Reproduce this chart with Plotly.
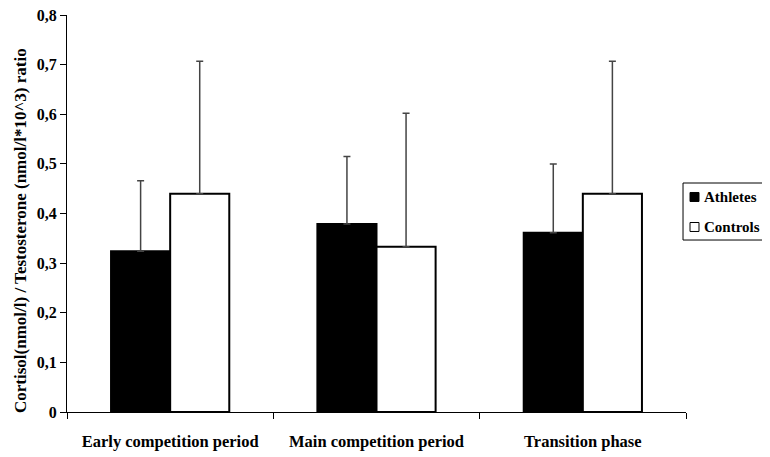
import plotly.graph_objects as go

categories = ["Early competition period", "Main competition period", "Transition phase"]
athletes = [0.324, 0.379, 0.361]
athletes_sd = [0.142, 0.136, 0.139]
controls = [0.440, 0.333, 0.440]
controls_sd = [0.267, 0.269, 0.267]
yticks = [0, 0.1, 0.2, 0.3, 0.4, 0.5, 0.6, 0.7, 0.8]
yticklabels = ["0", "0,1", "0,2", "0,3", "0,4", "0,5", "0,6", "0,7", "0,8"]
series_names = ["Athletes", "Controls"]
series_fill = ["black", "white"]

font_family = "Liberation Serif, Times New Roman, serif"

fig = go.Figure()
for name, vals, sd, fill in [(series_names[0], athletes, athletes_sd, series_fill[0]),
                             (series_names[1], controls, controls_sd, series_fill[1])]:
    fig.add_trace(go.Bar(
        x=categories, y=vals, name=name, showlegend=False,
        marker=dict(color=fill, line=dict(color="black", width=2)),
        error_y=dict(type="data", array=sd, arrayminus=[0] * len(sd), symmetric=False,
                     color="#444444", thickness=1.5, width=3.5),
    ))

# manual legend (box, swatches, labels) placed in paper coordinates
fig.add_shape(type="rect", xref="paper", yref="paper",
              x0=0.9952, x1=1.14, y0=0.4332, y1=0.5768,
              line=dict(color="black", width=1), fillcolor="white", layer="above")
rows_y = [0.5416, 0.4660]
for i, name in enumerate(series_names):
    fig.add_shape(type="rect", xref="paper", yref="paper",
                  x0=1.0065, x1=1.0210, y0=rows_y[i] - 0.0113, y1=rows_y[i] + 0.0113,
                  line=dict(color="black", width=1), fillcolor=series_fill[i], layer="above")
    fig.add_annotation(xref="paper", yref="paper", x=1.0258, y=rows_y[i],
                       xanchor="left", yanchor="middle", showarrow=False,
                       text="<b>%s</b>" % name,
                       font=dict(family=font_family, size=15, color="black"))

# y axis title
fig.add_annotation(xref="paper", yref="paper", x=-0.0760, y=0.4584,
                   xanchor="center", yanchor="middle", showarrow=False, textangle=-90,
                   text="<b>Cortisol(nmol/l) / Testosterone (nmol/l*10^3) ratio</b>",
                   font=dict(family=font_family, size=17, color="black"))

fig.update_layout(
    width=770, height=457,
    margin=dict(l=59, r=92, t=7, b=53, autoexpand=False),
    paper_bgcolor="white", plot_bgcolor="white",
    barmode="group", bargap=0.427, bargroupgap=0,
    font=dict(family=font_family, color="black"),
    showlegend=False,
    xaxis=dict(
        type="category", tickson="boundaries", ticks="outside", ticklen=6,
        tickcolor="black", showline=True, linecolor="black", linewidth=1.3,
        showgrid=False, tickangle=0, automargin=False, ticklabelstandoff=14,
        tickfont=dict(family=font_family, size=16.5, color="black"),
        tickprefix="<b>", ticksuffix="</b>",
    ),
    yaxis=dict(
        range=[0, 0.8], tickvals=yticks, ticktext=["<b>%s</b>" % t for t in yticklabels],
        ticks="outside", ticklen=6, automargin=False, ticklabeloverflow="allow",
        tickcolor="black", showline=True, linecolor="black", linewidth=1.3,
        showgrid=False, zeroline=False,
        tickfont=dict(family=font_family, size=16, color="black"),
    ),
)

fig.write_html("out.html")
